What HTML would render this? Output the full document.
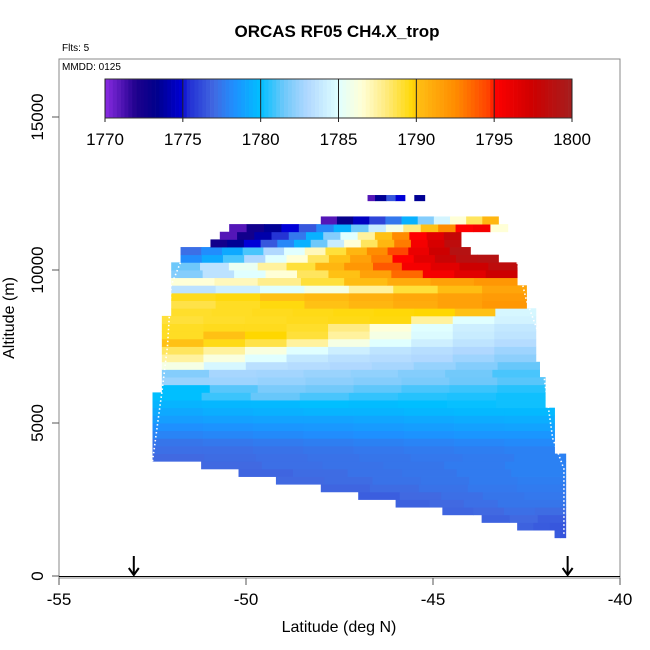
<!DOCTYPE html>
<html><head><meta charset="utf-8">
<style>
html,body{margin:0;padding:0;background:#fff;}
svg{display:block;font-family:"Liberation Sans",Arial,sans-serif;}
</style></head>
<body>
<svg id="chart" width="650" height="650" viewBox="0 0 650 650">
  <text x="337" y="37" text-anchor="middle" font-size="17" font-weight="bold">ORCAS RF05 CH4.X_trop</text>
  <text x="62" y="51" font-size="10">Flts: 5</text>
  <g id="cells"></g>
  <rect x="59" y="59" width="561" height="519" fill="none" stroke="#888" stroke-width="1"/>
  <g id="path"></g>
  <line x1="59" y1="576.5" x2="620" y2="576.5" stroke="#000" stroke-width="1"/>
  <text x="62" y="70" font-size="10">MMDD: 0125</text>
  <g id="cbar"></g>
  <g id="axes"></g>
  <text x="339" y="632" text-anchor="middle" font-size="16">Latitude (deg N)</text>
  <text transform="translate(14,318) rotate(-90)" text-anchor="middle" font-size="16">Altitude (m)</text>
</svg>
<script>
const xTicks=[-55,-50,-45,-40];
const yTicks=[0,5000,10000,15000];
const cbarTicks=[1770,1775,1780,1785,1790,1795,1800];
const arrowLats=[-53,-41.4];
const rowAlts=[1250,1500,1750,2000,2250,2500,2750,3000,3250,3500,3750,4000,4250,4500,4750,5000,5250,5500,5750,6000,6250,6500,6750,7000,7250,7500,7750,8000,8250,8500,8750,9000,9250,9500,9750,10000,10250,10500,10750,11000,11250,11500];
const rowLatStart=[-41.75,-42.75,-43.7,-44.75,-46,-47,-48,-49.2,-50.2,-51.2,-52.5,-52.5,-52.5,-52.5,-52.5,-52.5,-52.5,-52.5,-52.5,-52.25,-52.25,-52.25,-52.25,-52.25,-52.25,-52.25,-52.25,-52.25,-52.25,-52.0,-52.0,-52.0,-52.0,-52.0,-52.0,-52.0,-51.75,-51.75,-50.95,-50.7,-50.45,-48.0];
const rowLatEnd=[-41.45,-41.45,-41.45,-41.45,-41.45,-41.45,-41.45,-41.45,-41.45,-41.45,-41.45,-41.75,-41.75,-41.75,-41.75,-41.75,-41.75,-42.0,-42.0,-42.0,-42.0,-42.15,-42.15,-42.25,-42.25,-42.25,-42.25,-42.25,-42.25,-42.25,-42.5,-42.5,-42.5,-42.75,-42.75,-42.75,-43.25,-44.0,-44.25,-44.25,-43.0,-43.25];
const rowValues=[
[1776.6,1776.4],
[1776.8,1776.6,1776.5],
[1776.8,1777,1776.7],
[1776.9,1777,1777.2,1777.1],
[1776.8,1777,1777.2,1777.4,1777.4],
[1776.7,1777,1777.2,1777.4,1777.5],
[1776.9,1777.1,1777.3,1777.5,1777.6],
[1777,1777.1,1777.3,1777.4,1777.6,1777.7],
[1776.9,1777.1,1777.3,1777.4,1777.6,1777.8],
[1777,1777.2,1777.3,1777.4,1777.6,1777.8],
[1777,1777.1,1777.2,1777.3,1777.4,1777.5,1777.6,1777.8],
[1777.2,1777.2,1777.3,1777.4,1777.5,1777.6,1777.7,1777.8],
[1777.4,1777.5,1777.6,1777.7,1777.8,1777.9,1778,1778.1],
[1777.9,1778,1778.1,1778.2,1778.3,1778.4,1778.5,1778.5],
[1778.3,1778.4,1778.5,1778.6,1778.7,1778.8,1778.9,1779],
[1778.8,1778.9,1779,1779,1779.1,1779.2,1779.3,1779.4],
[1779.2,1779.4,1779.5,1779.6,1779.6,1779.7,1779.8,1779.8],
[1779.6,1779.7,1779.8,1780,1779.9,1780,1780.1,1780.2],
[1780,1780.8,1781.4,1781,1780.7,1780.5,1780.4,1780.2],
[1780,1781.2,1781.8,1781.6,1781.3,1781,1780.8,1780.5],
[1782.5,1782.6,1782.4,1782.2,1782,1781.8,1781.5,1781.2],
[1782,1782.8,1782.7,1782.5,1782.3,1782,1781.6,1781],
[1786,1784.6,1783.4,1783.2,1783,1782.8,1782.4,1782,1781.4],
[1787.5,1786.2,1785,1783.8,1783.4,1783.2,1783,1782.6,1782.2],
[1788.5,1787.5,1786.2,1785,1784.2,1783.6,1783.3,1783,1782.6],
[1790,1789.5,1788.8,1787.5,1786,1785,1784.2,1783.6,1783.2],
[1789.3,1790,1789.8,1789,1787.5,1786,1784.8,1784,1783.6],
[1789.3,1789.4,1789.4,1789.2,1788,1786.5,1785,1784.2,1783.8],
[1789,1789.2,1789.3,1789.4,1789.5,1789.6,1787.5,1785,1784.4],
[1789.2,1789.3,1789.4,1789.5,1789.6,1789.7,1789.8,1790,1784.6],
[1788.8,1789.3,1789.6,1790,1790.5,1791,1791.5,1792],
[1789.4,1789.6,1790,1790.4,1790.8,1791.2,1791.5,1791.8],
[1783.5,1784.2,1785,1786,1787.5,1789,1790.2,1791.3],
[1786.5,1787,1787.8,1789,1790.2,1791,1791.5,1792],
[1782,1783.5,1785,1786.5,1788.5,1790,1791.5,1793.5,1795.5,1796.5,1797.5],
[1781.5,1783.5,1785.5,1787.5,1789,1790.5,1792,1794,1795.5,1796.5,1797.5,1798.5],
[1778.2,1779.2,1781,1783,1785,1786.5,1788.5,1790,1791.5,1793,1795,1796.5,1797.8,1798.8,1799],
[1777.2,1778.2,1779.2,1781,1783,1785,1787,1789,1790.5,1792.5,1794.5,1796,1797.5,1799],
[1772.5,1773.5,1775,1776.5,1778,1779.5,1781.5,1784,1786.5,1788.5,1790.5,1793,1795.5,1797,1798.5],
[1771,1772.5,1774,1775.5,1777.5,1779.5,1782,1785,1787.5,1790,1792.5,1795,1796.5,1798],
[1771,1772.5,1773.5,1775,1776.5,1778,1779.5,1781.5,1784,1786,1788,1790,1792.5,1795,1795.5,1786.5],
[1771,1773,1774.5,1776,1777.5,1779.5,1782,1784.5,1786.5,1788.5,1790.5]
];
const topAlt=12250;
const topLats=[-46.75,-46.55,-46.25,-46.0,-45.75,-45.5,-45.22];
const topVals=[1771,1773.5,1776.5,1775,null,1773.5,1772];

const X0=59,X1=620,Y0=576,PXM=0.0306;
function xS(lat){return X0+(lat+55)/15*(X1-X0);}
function yS(a){return Y0-a*PXM;}
const stops=[[1770,[138,43,226]],[1772,[30,0,140]],[1773.3,[0,0,139]],[1775,[0,0,215]],[1775.2,[30,40,210]],[1777,[65,105,225]],[1778.3,[30,144,255]],[1780,[0,191,255]],[1781.5,[110,200,250]],[1783,[176,216,255]],[1785,[224,255,255]],[1786.5,[255,255,215]],[1788,[255,235,130]],[1789.8,[255,215,0]],[1790,[255,193,20]],[1792.5,[255,140,0]],[1794.8,[255,60,0]],[1795,[255,0,0]],[1797.5,[205,0,0]],[1800,[165,30,30]]];
function col(v){
  if(v<=stops[0][0])return 'rgb('+stops[0][1]+')';
  for(let i=1;i<stops.length;i++){
    if(v<=stops[i][0]){const a=stops[i-1],b=stops[i];const t=(v-a[0])/(b[0]-a[0]);
      return 'rgb('+a[1].map((c,k)=>Math.round(c+(b[1][k]-c)*t)).join(',')+')';}
  }
  return 'rgb('+stops[stops.length-1][1]+')';
}
const NS='http://www.w3.org/2000/svg';
function mk(t,attrs,parent){const e=document.createElementNS(NS,t);for(const k in attrs)e.setAttribute(k,attrs[k]);parent.appendChild(e);return e;}
const cells=document.getElementById('cells');
rowAlts.forEach((alt,i)=>{
  const vals=rowValues[i],s=rowLatStart[i],e=rowLatEnd[i],w=(e-s)/vals.length;
  const yt=yS(alt+250),yb=yS(alt);
  vals.forEach((v,j)=>{
    const xa=xS(s+j*w),xb=xS(s+(j+1)*w);
    const r=mk('rect',{x:xa.toFixed(2),y:yt.toFixed(2),width:(xb-xa+0.4).toFixed(2),height:(yb-yt+0.4).toFixed(2),fill:col(v)},cells);
    
    
  });
});
topVals.forEach((v,j)=>{
  if(v===null||j>=topLats.length-1)return;
  const xa=xS(topLats[j]),xb=xS(topLats[j+1]);
  const r=mk('rect',{x:xa,y:yS(topAlt+200),width:xb-xa+0.4,height:200*PXM,fill:col(v)},cells);
  
  
});
const path=document.getElementById('path');
const trackL=[[-52.5,3750],[-52.25,6000],[-52.1,7500],[-52.0,9500],[-51.75,10250]];
const trackR=[[-42.75,10250],[-42.5,9000],[-42.2,8000],[-41.8,4500],[-41.5,3500],[-41.5,1300]];
[trackL,trackR].forEach(tr=>{
  const p=mk('polyline',{points:tr.map(q=>xS(q[0])+','+yS(q[1])).join(' '),fill:'none',stroke:'#fff','stroke-width':1.6,'stroke-dasharray':'1.5 2.5'},path);
  
  
});
const cb=document.getElementById('cbar');
const CX0=105,CX1=572,CY0=79,CY1=118,N=120;
for(let i=0;i<N;i++){
  const v=1770+(i+0.5)/N*30;
  const r=mk('rect',{x:CX0+i*(CX1-CX0)/N,y:CY0,width:(CX1-CX0)/N+0.3,height:CY1-CY0,fill:col(v)},cb);
  
  
}
mk('rect',{x:CX0,y:CY0,width:CX1-CX0,height:CY1-CY0,fill:'none',stroke:'#333','stroke-width':1},cb);
cbarTicks.forEach(t=>{
  const x=CX0+(t-1770)/30*(CX1-CX0);
  mk('line',{x1:x,y1:CY0,x2:x,y2:CY1+4,stroke:'#222','stroke-width':1},cb);
  const tx=mk('text',{x:x,y:145,'text-anchor':'middle','font-size':17},cb);
  tx.textContent=t;
  
  
});
const ax=document.getElementById('axes');
xTicks.forEach(t=>{
  const x=xS(t);
  mk('line',{x1:x,y1:578,x2:x,y2:585,stroke:'#555'},ax);
  const tx=mk('text',{x:x,y:605,'text-anchor':'middle','font-size':17},ax);
  tx.textContent=t;
  
  
});
yTicks.forEach(t=>{
  const y=yS(t);
  mk('line',{x1:52,y1:y,x2:59,y2:y,stroke:'#555'},ax);
  const tx=mk('text',{transform:'translate(43,'+y+') rotate(-90)','text-anchor':'middle','font-size':17},ax);
  tx.textContent=t;
  
  
});
arrowLats.forEach(l=>{
  const x=xS(l);
  const g=mk('g',{},ax);
  
  
  mk('line',{x1:x,y1:556,x2:x,y2:575,stroke:'#000','stroke-width':2},g);
  mk('polyline',{points:(x-5)+',568 '+x+',575 '+(x+5)+',568',fill:'none',stroke:'#000','stroke-width':2},g);
});
</script>
</body></html>
